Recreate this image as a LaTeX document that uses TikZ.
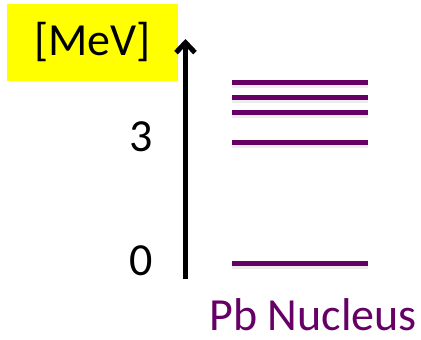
\documentclass[tikz,border=0pt]{standalone}
\usepackage{fontspec}
\setmainfont{Carlito}
\usetikzlibrary{arrows.meta}
\definecolor{levelpurple}{HTML}{660066}
\definecolor{labelyellow}{HTML}{FFFF00}
\tikzset{
  level/.style={levelpurple, line width=5bp},
  levelshadow/.style={black!20, line width=5bp, opacity=0.35},
  axislabel/.style={font=\fontsize{46bp}{50bp}\selectfont, inner sep=0pt},
}
\begin{document}
\begin{tikzpicture}[x=1bp, y=-1bp]
  \useasboundingbox (0,0) rectangle (421,340);
  % unit box
  \node[fill=labelyellow, minimum width=170bp, minimum height=77bp, inner sep=0pt,
        font=\fontsize{46bp}{50bp}\selectfont] (unit) at (92.5,42.5) {[MeV]};
  % energy axis
  \coordinate (axbot) at (185.5,279);
  \coordinate (axtop) at (185.5,39);
  \draw[line width=5bp, -{Straight Barb[length=10bp,width=19bp,line width=5bp]}] (axbot) -- (axtop);
  % tick labels
  \node[axislabel] (e3) at (141.5,137) {3};
  \node[axislabel] (e0) at (141.5,261) {0};
  % level end points
  \foreach \n/\y in {a/82, b/97, c/112, d/142, g/263} {
    \coordinate (\n L) at (232,\y);
    \coordinate (\n R) at (368,\y);
    \draw[levelshadow] ([yshift=-3bp]\n L) -- ([yshift=-3bp]\n R);
    \draw[level] (\n L) -- (\n R);
  }
  % nucleus label
  \node[axislabel, text=levelpurple, anchor=base east] (nuc) at (417,330) {Pb Nucleus};
\end{tikzpicture}
\end{document}
